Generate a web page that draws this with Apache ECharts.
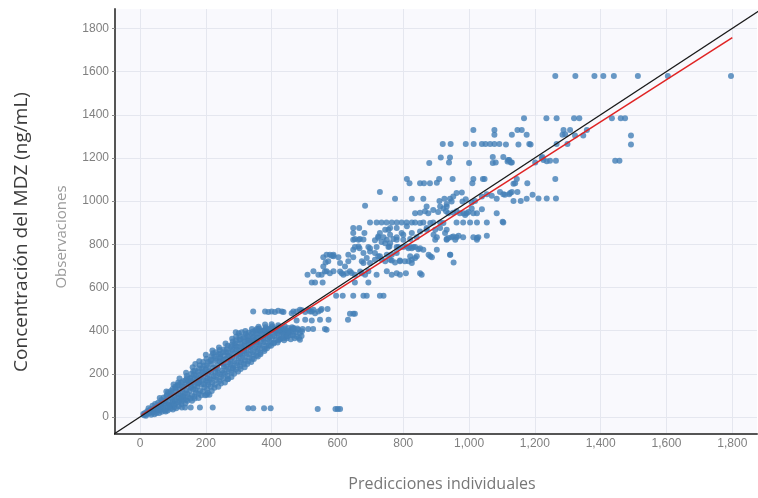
<!DOCTYPE html>
<html>
<head>
<meta charset="utf-8">
<script src="https://cdn.jsdelivr.net/npm/echarts@6/dist/echarts.min.js"></script>
<style>
  html, body { margin: 0; padding: 0; background: #ffffff; }
  #chart { width: 758px; height: 498px; }
</style>
</head>
<body>
<div id="chart"></div>
<script>
// Observed vs individual-predicted MDZ concentrations (ng/mL), [pred, obs]

// Dense low-concentration band (0-480), core
const lowBand = [
  [12,8],[15,18],[10,14],[20,12],[22,26],[25,20],[30,18],[32,34],[28,28],
  [40,22],[42,40],[38,52],[45,32],[50,30],[53,48],[55,66],[48,40],
  [62,32],[60,54],[65,78],[64,44],[70,42],[74,62],[72,90],[76,52],
  [84,45],[86,70],[82,100],[88,58],[85,115],[95,56],[98,82],[96,110],[100,70],[99,130],
  [108,62],[112,90],[110,118],[114,145],[106,76],[120,75],[124,100],[122,128],[125,158],[118,88],
  [133,82],[136,110],[134,140],[138,170],[131,96],[146,92],[150,120],[148,150],[152,180],[144,106],
  [158,100],[162,128],[160,160],[164,195],[156,140],[170,112],[174,140],[172,172],[176,210],[168,126],[170,190],
  [183,122],[187,150],[185,185],[189,225],[181,168],[196,138],[200,168],[198,200],[202,240],[194,152],[200,220],
  [208,150],[212,178],[210,212],[214,258],[206,195],[220,160],[224,190],[222,228],[226,280],[218,245],
  [233,172],[237,205],[235,240],[239,292],[231,262],[246,185],[250,215],[248,250],[252,300],[244,272],
  [258,200],[262,232],[260,268],[264,315],[256,285],[270,212],[274,245],[272,280],[276,325],[268,300],
  [283,226],[287,258],[285,292],[289,340],[281,312],[296,240],[300,272],[298,305],[302,355],[294,325],
  [308,252],[312,285],[310,318],[314,365],[306,340],[320,262],[324,298],[322,330],[326,375],[318,350],
  [333,275],[337,310],[335,345],[339,385],[331,362],[346,290],[350,322],[348,356],[352,395],[344,372],
  [358,305],[362,335],[360,368],[364,398],[356,385],[371,318],[375,348],[373,380],[377,400],
  [384,330],[388,362],[386,392],[390,405],[398,345],[402,372],[400,400],[404,410],
  [413,358],[417,385],[415,405],[428,365],[432,390],[430,408],[443,372],[447,400],
  [458,380],[462,405],[474,392],[478,410],[486,358],[470,365],
  [291,392],[309,392],[350,400],[365,400],[380,400],[395,405],[410,400],[426,400],[441,400],[456,400]
];

// Low-concentration band, outer edges
const lowEdge = [
  [18,5],[26,40],[34,10],[44,12],[46,60],[50,18],[58,18],[60,88],[66,24],[68,70],
  [78,25],[80,118],[84,30],[90,105],[92,38],[100,35],[102,150],[104,45],[108,132],[110,40],
  [118,50],[120,178],[116,160],[126,60],[128,140],[138,62],[140,205],[142,190],[144,75],[146,165],
  [158,75],[160,230],[162,212],[166,85],[168,245],[154,178],[178,88],[180,258],[182,240],[186,100],[190,205],[176,155],
  [198,100],[200,288],[202,270],[206,112],[204,180],[192,255],[218,120],[220,308],[222,295],[226,135],[216,265],[228,210],
  [238,140],[240,322],[242,310],[246,155],[236,225],[244,290],[258,160],[260,340],[262,300],[266,175],[254,245],[266,330],
  [278,185],[280,362],[282,350],[286,200],[276,265],[290,330],[298,210],[300,388],[302,375],[306,222],[304,290],[292,355],
  [318,230],[320,398],[322,385],[326,245],[316,310],[328,355],[338,255],[340,408],[342,395],[346,268],[336,325],[344,345],
  [358,280],[360,418],[362,410],[366,290],[354,350],[378,305],[380,428],[382,415],[386,318],[374,365],
  [398,330],[400,430],[402,420],[406,340],[394,385],[418,345],[420,425],[422,415],[426,360],[410,395],
  [438,355],[440,420],[436,385],[446,365],[458,360],[462,415],[452,390]
];

// Low-concentration band, interior
const lowInner = [
  [56,36],[63,60],[75,30],[78,75],[80,95],[91,48],[93,90],[94,120],[103,58],[105,100],[107,140],
  [115,68],[116,108],[117,150],[127,72],[129,118],[130,165],[129,90],[140,80],[141,125],[142,155],[143,178],
  [153,85],[154,135],[155,165],[156,200],[165,95],[166,150],[167,178],[167,215],
  [178,108],[179,160],[180,195],[179,225],[191,118],[192,175],[192,210],[193,238],
  [204,130],[205,160],[206,228],[207,255],[215,140],[216,172],[217,205],[217,282],
  [228,150],[229,185],[230,225],[230,270],[230,300],[241,165],[242,198],[242,258],[243,278],
  [253,178],[254,205],[255,232],[255,265],[254,312],[266,190],[267,222],[268,255],[268,285],
  [278,205],[279,238],[280,275],[280,305],[279,335],[291,220],[292,250],[293,282],[293,312],[292,372],
  [304,235],[305,262],[306,295],[306,328],[305,360],[316,245],[317,275],[318,305],[318,338],[317,370],
  [329,258],[330,290],[330,322],[331,352],[330,390],[341,270],[342,300],[343,335],[343,368],
  [354,285],[355,315],[355,345],[356,370],[355,408],[366,298],[367,330],[368,358],[368,390],
  [379,315],[380,345],[381,375],[380,405],[392,330],[393,355],[394,370],[393,410],
  [407,345],[408,375],[409,410],[421,355],[422,380],[423,400],[435,365],[436,395],[437,410],
  [449,375],[450,392],[451,412],[465,378],[466,395],[467,412]
];

// Middle range (450-1100)
const midBand = [
  [466,407],[481,404],[494,407],[511,407],[526,407],[483,366],[486,389],[476,373],[492,397],[491,375],
  [567,404],[562,407],[476,447],[502,450],[522,447],[547,450],[573,450],[632,450],
  [344,489],[380,489],[390,486],[400,489],[410,486],[420,492],[431,489],[436,486],[461,481],[466,489],
  [476,489],[492,494],[502,486],[512,497],[522,489],[532,481],[542,489],[549,494],[570,500],
  [486,497],[517,489],[527,497],[552,500],[638,478],[648,478],[653,478],
  [596,562],[616,562],[648,562],[679,562],[689,562],[729,562],[740,562],
  [522,623],[532,623],[555,623],[653,623],[694,623],
  [509,659],[527,675],[542,659],[552,659],[567,675],[577,666],[588,675],[613,666],[618,659],[628,666],
  [638,675],[653,659],[674,666],[684,659],[694,675],[719,659],[750,675],[765,659],[780,666],[790,659],[808,666],
  [562,674],[608,674],[643,667],[669,674],
  [557,740],[577,751],[588,751],[603,740],[633,751],[648,740],[674,721],[679,713],[689,736],[699,713],
  [724,744],[734,731],[750,751],[765,725],[775,716],[790,725],[805,721],[821,744],[836,736],[826,713],
  [851,666],[856,659],[953,716],[564,716],[557,697],[572,721],[588,744],[567,752],[583,747],[608,713],[623,697],[633,721],
  [648,775],[664,790],[679,759],[699,767],[714,759],[729,744],[745,721],[760,728],[765,752],[790,721],
  [816,721],[826,728],[841,744],[780,759],[714,728],
  [653,787],[694,787],[719,787],[755,787],[780,787],[800,787],[821,787],[836,787],
  [648,821],[664,821],[750,821],[780,821],[800,821],[897,821],[932,821],[958,821],[1024,821],
  [667,782],[699,782],[758,790],[785,787],[816,782],[831,787],[846,777],[877,751],[887,740],[942,751],
  [679,822],[714,819],[724,830],[734,811],[745,805],[760,805],[811,790],[826,782],[851,782],[861,775],
  [882,744],[943,752],[902,775],
  [648,875],[666,875],[682,852],[648,852],[653,824],[668,824],[729,852],[740,833],[755,867],[760,844],
  [770,824],[780,833],[800,844],[821,824],[841,833],[871,867],[897,867],[902,833],[932,867],[932,824],
  [947,833],[962,833],[982,833],[1013,833],[1028,833],[1054,839],
  [724,836],[745,867],[760,875],[780,875],[795,852],[811,883],[826,852],[851,859],[871,875],[892,844],
  [912,875],[927,852],[937,829],[952,836],[968,840],[1024,829],
  [699,901],[719,901],[734,901],[749,901],[765,901],[780,901],[795,901],[810,901],[826,901],[836,901],
  [851,898],[861,901],[882,898],[891,901],[912,901],[922,898],[962,901],[982,901],[1003,901],[1024,901],
  [1054,901],[1104,901],[1102,904],
  [836,944],[851,946],[866,953],[876,944],[891,959],[906,949],[922,966],[930,953],[937,944],[952,946],
  [962,953],[972,944],[988,936],[998,949],[1008,966],[1024,944],[1039,962],[1084,944],
  [871,975],[912,975],[932,975],[983,944],[993,944],[1013,944],[684,978]
];

// Upper range (1000-1800)
const highBand = [
  [729,1042],[775,1011],[826,1011],[861,1011],[910,1001],[925,1011],[942,1011],[952,1021],[962,1037],
  [978,1040],[932,987],[947,998],[980,998],[990,1009],[1008,994],[1018,1001],[1039,1021],[1054,1032],
  [1069,1025],[1084,1011],[1094,1042],[1104,1032],[1109,1029],[1122,1032],[1125,1037],[1130,1042],
  [1135,1001],[1147,1042],[1157,1001],[1175,1011],[1193,1029],[1211,1012],[1236,1012],[1264,1012],
  [811,1102],[819,1083],[851,1083],[863,1083],[881,1083],[902,1085],[909,1102],[950,1102],[1013,1102],
  [1010,1083],[1042,1102],[1047,1102],[1140,1083],[1177,1083],[1145,1102],[1262,1102],[1135,1080],
  [914,1202],[942,1202],[939,1179],[879,1176],[1000,1176],[1072,1204],[1072,1176],[1104,1204],[1119,1191],
  [1127,1179],[1081,1179],[1122,1191],[1130,1179],[1117,1183],[1201,1179],[1221,1200],[1236,1185],
  [1246,1187],[1264,1187],[1223,1204],[1226,1191],[1444,1187],[1457,1187],
  [920,1265],[944,1265],[990,1265],[1014,1265],[1039,1265],[1050,1265],[1064,1265],[1077,1265],
  [1092,1265],[1112,1262],[1150,1262],[1183,1265],[1187,1262],[1266,1265],[1299,1265],[1492,1262],
  [1077,1307],[1130,1307],[1175,1307],[1284,1307],[1292,1310],[1322,1304],[1347,1304],[1492,1304],
  [1013,1329],[1077,1329],[1147,1329],[1160,1329],[1287,1329],[1307,1329],[1358,1329],
  [1167,1384],[1235,1384],[1266,1384],[1319,1384],[1335,1384],[1434,1384],[1461,1384],[1474,1384],
  [1262,1580],[1323,1580],[1381,1580],[1408,1580],[1440,1580],[1513,1580],[1604,1580],[1796,1580]
];

// Low observations far from prediction
const outliers = [
  [127,44],[137,44],[154,44],[182,44],[221,44],[329,40],[344,40],[377,40],[397,40],
  [540,37],[594,37],[601,37],[608,37],[268,176],[282,227],[203,103],[211,103]
];

// Identity line and fitted regression line endpoints
const identityLine = [[-100,-100],[1950,1950]];
const fitLine = [[5,8],[1800,1757]];

const tickValues = [0,200,400,600,800,1000,1200,1400,1600,1800];

const chart = echarts.init(document.getElementById('chart'), null, { renderer: 'canvas' });

const labelStyle = { color: '#808080', fontSize: 12, fontFamily: 'Liberation Sans, Arial, sans-serif' };
const gridLine = { show: true, lineStyle: { color: '#e5e7ef', width: 1 } };
const axisLineStyle = { show: true, onZero: false, lineStyle: { color: '#555555', width: 2 } };
const dot = { color: '#4480b6' };

chart.setOption({
  animation: false,
  backgroundColor: '#ffffff',
  grid: {
    left: 115, right: 1, top: 9, bottom: 64,
    show: true, backgroundColor: '#f9f9fd', borderWidth: 0
  },
  xAxis: {
    type: 'value', min: -76, max: 1875,
    axisLine: axisLineStyle,
    axisTick: { show: false, customValues: tickValues },
    axisLabel: Object.assign({ margin: 4, customValues: tickValues,
      formatter: v => v.toLocaleString('en-US') }, labelStyle),
    splitLine: gridLine
  },
  yAxis: {
    type: 'value', min: -79, max: 1890,
    axisLine: axisLineStyle,
    axisTick: { show: true, length: 3, customValues: tickValues, lineStyle: { color: '#888888' } },
    axisLabel: Object.assign({ margin: 6, customValues: tickValues, formatter: v => String(v) }, labelStyle),
    splitLine: gridLine
  },
  graphic: [
    { type: 'text', x: 22, y: 232, rotation: Math.PI / 2,
      style: { text: 'Concentración del MDZ (ng/mL)', fill: '#3c3c3c', fontSize: 19,
        fontFamily: 'Open Sans, Noto Sans, sans-serif', align: 'center', verticalAlign: 'middle' } },
    { type: 'text', x: 62, y: 237, rotation: Math.PI / 2,
      style: { text: 'Observaciones', fill: '#9a9a9a', fontSize: 15,
        fontFamily: 'Open Sans, Noto Sans, sans-serif', align: 'center', verticalAlign: 'middle' } },
    { type: 'text', x: 442, y: 484,
      style: { text: 'Predicciones individuales', fill: '#777777', fontSize: 16,
        fontFamily: 'Open Sans, Noto Sans, sans-serif', align: 'center', verticalAlign: 'middle' } }
  ],
  series: [
    { type: 'scatter', data: lowBand, symbolSize: 6, itemStyle: dot, z: 2 },
    { type: 'scatter', data: lowEdge, symbolSize: 6, itemStyle: dot, z: 2 },
    { type: 'scatter', data: lowInner, symbolSize: 6, itemStyle: dot, z: 2 },
    { type: 'scatter', data: midBand, symbolSize: 6, itemStyle: dot, z: 2 },
    { type: 'scatter', data: highBand, symbolSize: 6, itemStyle: dot, z: 2 },
    { type: 'scatter', data: outliers, symbolSize: 6, itemStyle: dot, z: 2 },
    { type: 'line', data: fitLine, showSymbol: false, clip: true,
      lineStyle: { color: '#e02424', width: 1.5 }, z: 3 },
    { type: 'line', data: identityLine, showSymbol: false, clip: true,
      lineStyle: { color: '#1a1a1a', width: 1.3 }, z: 4 }
  ]
});
</script>
</body>
</html>
